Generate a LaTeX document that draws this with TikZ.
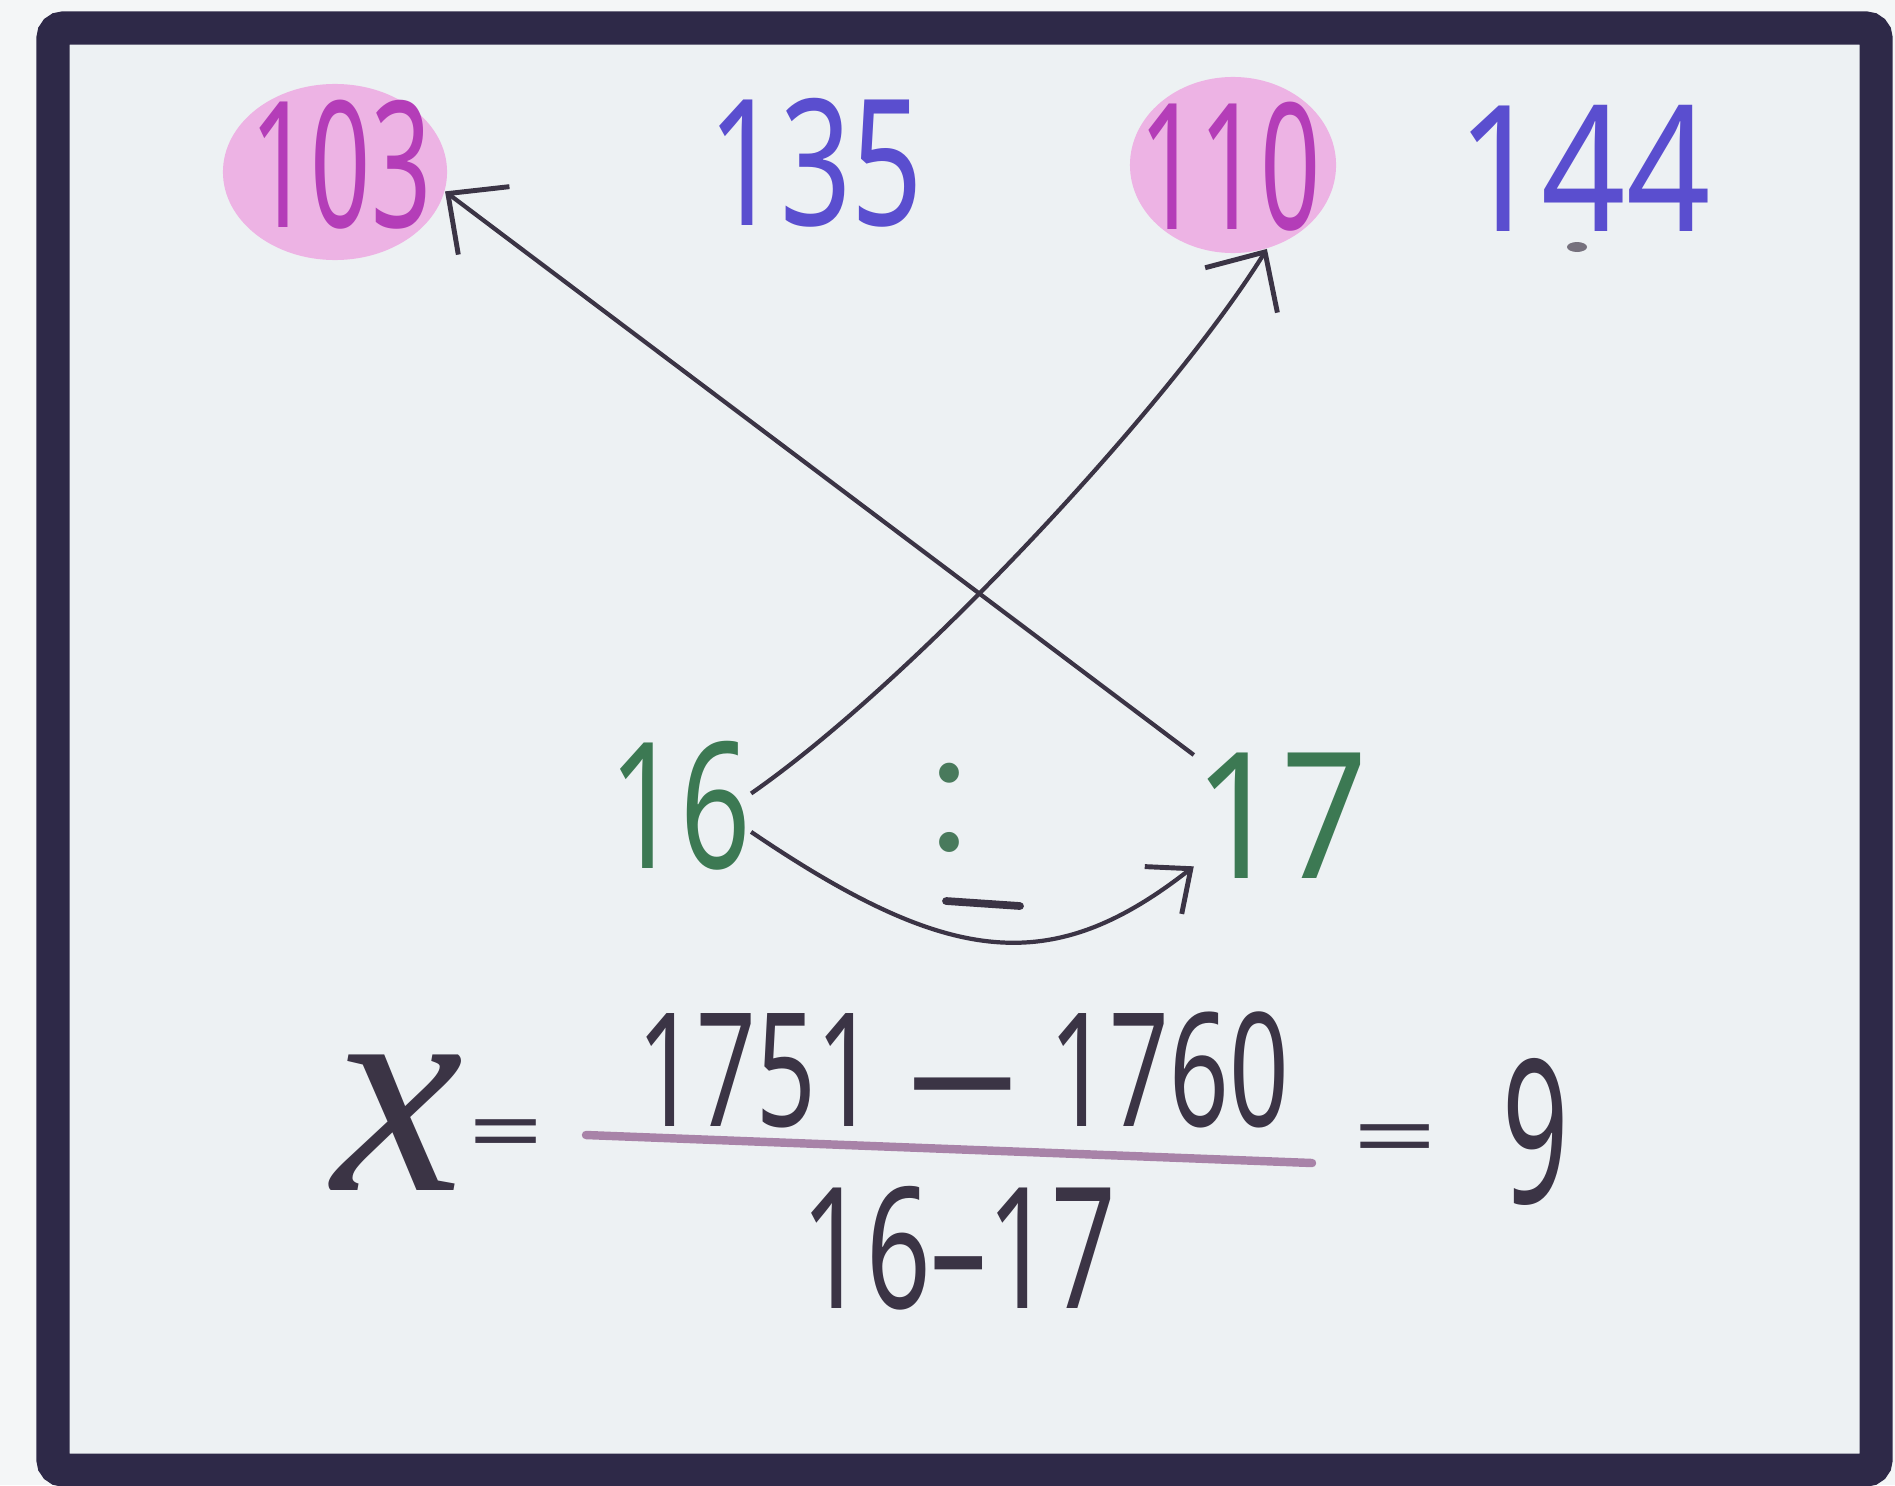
\documentclass[tikz,border=0pt]{standalone}
\usepackage{fontspec}
\setmainfont{Noto Sans}
\newfontfamily\serifit{Liberation Serif}
\newfontfamily\dotfont{Poppins}
\usetikzlibrary{arrows.meta, shapes.geometric}

\definecolor{frameink}{HTML}{2E2948}
\definecolor{boardbg}{HTML}{EDF1F3}
\definecolor{pagebg}{HTML}{F4F6F7}
\definecolor{pinkink}{HTML}{B43DB8}
\definecolor{pinkblob}{HTML}{EDB3E4}
\definecolor{blueink}{HTML}{5A4ECF}
\definecolor{greenink}{HTML}{3C7953}
\definecolor{penink}{HTML}{3B3445}
\definecolor{barink}{HTML}{A883A8}

\newcommand{\squeeze}[2]{\scalebox{#1}[1]{#2}}

\tikzset{
  hand/.style={inner sep=0pt, font=\fontsize{50}{60}\selectfont},
  blob/.style={ellipse, fill=pinkblob, inner sep=0pt},
  arr/.style={draw=penink, line width=1.2pt,
    -{Straight Barb[length=0.45cm, width=0.85cm, line width=1.4pt]}},
}

\begin{document}
\begin{tikzpicture}[x=0.01cm, y=-0.01cm]
  \useasboundingbox (0,0) rectangle (1895,1485);
  \fill[pagebg] (0,0) rectangle (1895,1485);

  % ボード
  \draw[frameink, line width=0.33cm, fill=boardbg, rounded corners=0.1cm]
    (53,28) rectangle (1876,1470);

  % 上の段
  \node[blob, minimum width=2.24cm, minimum height=1.76cm] (b103) at (335,172) {};
  \node[blob, minimum width=2.06cm, minimum height=1.76cm] (b110) at (1233,165) {};
  \node[hand, text=pinkink] (n103) at (341,165) {\squeeze{0.6}{103}};
  \node[hand, text=blueink] (n135) at (816,163) {\squeeze{0.71}{135}};
  \node[hand, text=pinkink] (n110) at (1230,167) {\squeeze{0.6}{110}};
  \node[hand, text=blueink] (n144) at (1584,168) {\squeeze{0.84}{144}};
  \fill[penink!70] (1577,247) ellipse (10 and 5);

  % 16 : 17
  \node[hand, text=greenink] (n16) at (680,806) {\squeeze{0.7}{16}};
  \node[hand, text=greenink] (n17) at (1281,816) {\squeeze{0.86}{17}};
  \node[hand, text=greenink!80!gray, font=\dotfont\fontsize{46}{50}\selectfont] (colon) at (950,808) {:};
  \draw[penink, line width=2.2pt, line cap=round] (946,901) -- (1020,906);

  % 矢印
  \draw[arr] (n16.10) .. controls +(164,-114) and +(-95,153) .. (b110.-68);
  \draw[arr] (n17.145) -- (b103.-10);
  \draw[arr, -{Straight Barb[length=0.35cm, width=0.6cm, line width=1.4pt]}]
    (n16.-20) .. controls +(199,135) and +(-142,111) .. (n17.-150);

  % x の式
  \node[hand, text=penink, font=\serifit\itshape\fontsize{84}{90}\selectfont] (nx) at (398,1123) {x};
  \node[hand, text=penink] (eq1) at (506,1141) {\scalebox{0.75}[0.5]{=}};
  \node[hand, text=penink, font=\fontsize{45}{54}\selectfont] (num) at (963,1070) {\squeeze{0.66}{1751\,\,—\,\,1760}};
  \draw[barink, line width=2.4pt, line cap=round] (586,1135) -- (1312,1163);
  \node[hand, text=penink, font=\fontsize{48}{56}\selectfont] (den) at (959,1248) {\squeeze{0.67}{16–17}};
  \node[hand, text=penink] (eq2) at (1395,1146) {\scalebox{0.85}[0.5]{=}};
  \node[hand, text=penink, font=\fontsize{57}{64}\selectfont] (n9) at (1536,1132) {\squeeze{0.58}{9}};
\end{tikzpicture}
\end{document}
